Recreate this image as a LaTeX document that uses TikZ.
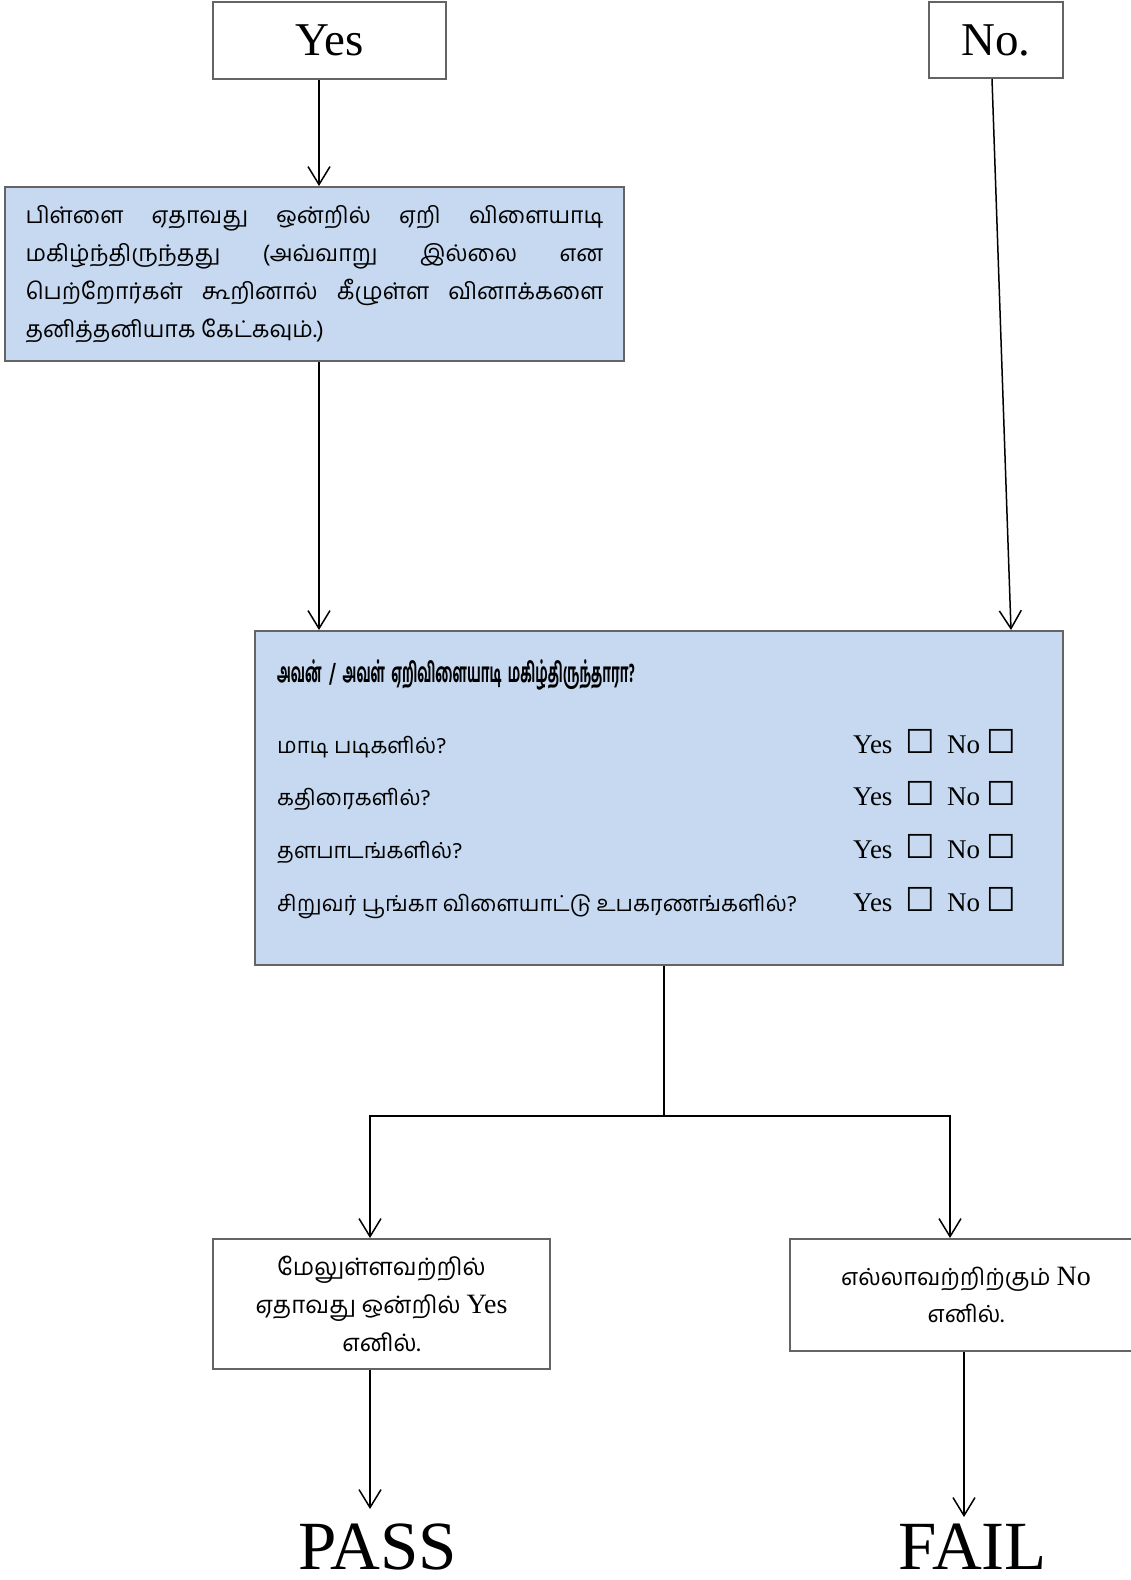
\documentclass[tikz,border=0pt]{standalone}
\usepackage{fontspec}
\setmainfont{Liberation Serif}
\newfontfamily\ta[Script=Tamil]{Hind Madurai}
\newfontfamily\tab[Script=Tamil,FakeStretch=0.5]{Hind Madurai Bold}
\newfontfamily\sym{DejaVu Sans}
\usetikzlibrary{arrows.meta}
\definecolor{boxblue}{RGB}{198,217,241}
\definecolor{bordergray}{RGB}{100,100,100}
\newcommand{\cbox}{{\sym\fontsize{33}{30}\selectfont ☐}}
\newcommand{\yn}{{\fontsize{27}{28}\selectfont Yes\hspace{13pt}\cbox\hspace{12pt}No\hspace{6pt}\cbox}}
\tikzset{
  plainbox/.style={draw=bordergray, line width=2pt, fill=white, inner sep=0pt},
  bluebox/.style={draw=bordergray, line width=2pt, fill=boxblue, inner sep=0pt},
  arr/.style={draw=black, line width=1.5pt, -{Straight Barb[length=18pt,width=22pt,line width=1.5pt]}},
  conn/.style={draw=black, line width=1.5pt},
  lbl/.style={inner sep=0pt, anchor=base west},
}
\begin{document}
\begin{tikzpicture}[x=1pt,y=-1pt]
\useasboundingbox (0,0) rectangle (1131,1580);
\begin{scope}
\clip (0,0) rectangle (1131,1580);
% top boxes
\node[plainbox, minimum width=233pt, minimum height=77pt, font=\fontsize{47}{50}\selectfont] (yes) at (329.5,40.5) {Yes};
\node[plainbox, minimum width=134pt, minimum height=76pt, font=\fontsize{47}{50}\selectfont] (no) at (996,40) {No.};
% box 1
\node[bluebox, minimum width=619pt, minimum height=174pt, text width=578pt, align=justify, font=\ta\fontsize{23}{38}\selectfont] (b1) at (314.5,274)
 {பிள்ளை ஏதாவது ஒன்றில் ஏறி விளையாடி\linebreak மகிழ்ந்திருந்தது (அவ்வாறு இல்லை என\linebreak பெற்றோர்கள் கூறினால் கீழுள்ள வினாக்களை\linebreak தனித்தனியாக கேட்கவும்.)};
% box 2
\node[bluebox, minimum width=808pt, minimum height=334pt] (b2) at (659,798) {};
\node[lbl] (h) at (277,682) {\tab\fontsize{27}{30}\selectfont அவன்\hspace{4pt} /\hspace{4pt} அவள்\hspace{3pt} ஏறிவிளையாடி\hspace{3pt} மகிழ்திருந்தாரா?};
\node[lbl] (q1) at (277,753) {\ta\fontsize{22}{24}\selectfont மாடி படிகளில்?};
\node[lbl] (q2) at (277,805) {\ta\fontsize{22}{24}\selectfont கதிரைகளில்?};
\node[lbl] (q3) at (277,858) {\ta\fontsize{22}{24}\selectfont தளபாடங்களில்?};
\node[lbl] (q4) at (277,911) {\ta\fontsize{22}{24}\selectfont சிறுவர் பூங்கா விளையாட்டு உபகரணங்களில்?};
\node[lbl] (a1) at (853,753) {\yn};
\node[lbl] (a2) at (853,805) {\yn};
\node[lbl] (a3) at (853,858) {\yn};
\node[lbl] (a4) at (853,911) {\yn};
% result boxes
\node[plainbox, minimum width=337pt, minimum height=130pt, align=center, font=\fontsize{24}{38}\selectfont] (pb) at (381.5,1304)
 {{\ta மேலுள்ளவற்றில்}\\ {\ta ஏதாவது ஒன்றில்} {\fontsize{28}{38}\selectfont Yes}\\ {\ta எனில்.}};
\node[plainbox, minimum width=352pt, minimum height=112pt, align=center, font=\fontsize{23.5}{37}\selectfont] (fb) at (966,1295)
 {{\ta எல்லாவற்றிற்கும்} {\fontsize{28}{37}\selectfont No}\\ {\ta எனில்.}};
% final labels
\node[inner sep=0pt, anchor=base] (pass) at (378,1569) {\fontsize{69}{72}\selectfont PASS};
\node[inner sep=0pt, anchor=base] (fail) at (973,1569) {\fontsize{69}{72}\selectfont FAIL};
% connectors
\coordinate (xl) at (319,0);
\coordinate (xn1) at (992,0);
\coordinate (xn2) at (1011,0);
\coordinate (jn) at (664,1116);
\coordinate (xp) at (370,0);
\coordinate (xf) at (950,0);
\coordinate (xf2) at (964,0);
\coordinate (ptip) at (370,1509);
\coordinate (ftip) at (964,1517);
\draw[arr] (yes.south -| xl) -- (b1.north -| xl);
\draw[arr] (b1.south -| xl) -- (b2.north -| xl);
\draw[arr] (no.south -| xn1) -- (b2.north -| xn2);
\draw[conn] (b2.south -| jn) -- (jn);
\draw[arr] (jn) -| (pb.north -| xp);
\draw[arr] (jn) -| (fb.north -| xf);
\draw[arr] (pb.south -| xp) -- (ptip);
\draw[arr] (fb.south -| xf2) -- (ftip);
\end{scope}
\end{tikzpicture}
\end{document}
